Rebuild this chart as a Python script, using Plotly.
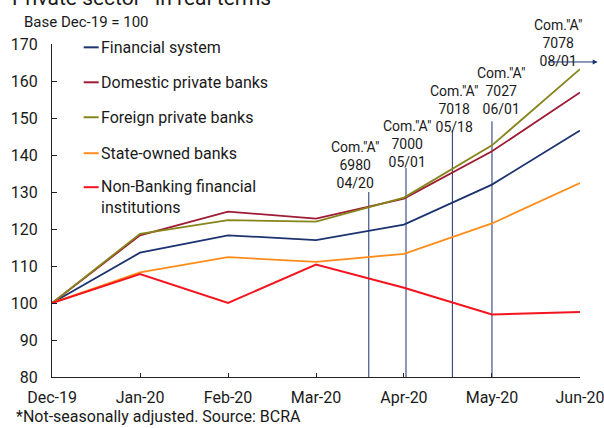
import plotly.graph_objects as go

# Monthly index values, base Dec-19 = 100
months = ["Dec-19", "Jan-20", "Feb-20", "Mar-20", "Apr-20", "May-20", "Jun-20"]
financial_system = [100, 113.6, 118.3, 117.0, 121.2, 132.0, 146.6]
domestic_private = [100, 118.3, 124.7, 122.8, 128.2, 141.0, 156.9]
foreign_private = [100, 118.7, 122.4, 122.0, 128.5, 142.6, 163.2]
state_owned = [100, 108.3, 112.4, 111.1, 113.3, 121.5, 132.4]
non_banking = [100, 107.8, 100.0, 110.4, 104.1, 96.9, 97.6]

series_names = [
    "Financial system",
    "Domestic private banks",
    "Foreign private banks",
    "State-owned banks",
    "Non-Banking financial<br>institutions",
]
series_values = [financial_system, domestic_private, foreign_private, state_owned, non_banking]
series_colors = ["#1c3370", "#9e1b34", "#85851a", "#ff8c1a", "#f5141e"]
series_widths = [1.8, 1.8, 1.8, 1.8, 2.0]

# BCRA communications (position on the month axis, height of the marker line)
event_pos = [3.6, 4.023, 4.55, 5.0]
event_top = [130.0, 136.5, 146.7, 149.1]
event_text = [
    'Com."A"<br>6980<br>04/20',
    'Com."A"<br>7000<br>05/01',
    'Com."A"<br>7018<br>05/18',
    'Com."A"<br>7027<br>06/01',
]
event_label_x = [3.44, 4.03, 4.565, 5.10]
event_label_y = [137.2, 142.9, 152.4, 157.3]
later_event_text = 'Com."A"<br>7078<br>08/01'

FONT = "Roboto"
TEXT = "#1a1a1a"
NAVY = "#1c3370"

x = list(range(len(months)))
fig = go.Figure()

# vertical markers for each communication
vx, vy = [], []
for p, t in zip(event_pos, event_top):
    vx += [p, p, None]
    vy += [80, t, None]
fig.add_trace(go.Scatter(x=vx, y=vy, mode="lines", line=dict(color=NAVY, width=1),
                         hoverinfo="skip", showlegend=False))

for name, vals, col, w in zip(series_names, series_values, series_colors, series_widths):
    fig.add_trace(go.Scatter(x=x, y=vals, mode="lines", name=name.replace("<br>", " "),
                             line=dict(color=col, width=w), showlegend=False))

annotations = []
for tx, lx, ly in zip(event_text, event_label_x, event_label_y):
    annotations.append(dict(x=lx, y=ly, xref="x", yref="y", text=tx, showarrow=False,
                            font=dict(family=FONT, size=14, color=TEXT),
                            xanchor="center", yanchor="middle", align="center"))

# later communication, beyond the end of the series
annotations.append(dict(x=0.959, y=1.004, xref="paper", yref="paper", text=later_event_text,
                        showarrow=False, font=dict(family=FONT, size=14, color=TEXT),
                        xanchor="center", yanchor="middle", align="center"))
annotations.append(dict(x=1.0335, y=0.946, xref="paper", yref="paper", text="",
                        showarrow=True, axref="pixel", ayref="pixel", ax=-51, ay=0,
                        arrowhead=2, arrowsize=1, arrowwidth=1, arrowcolor=NAVY))

# manual legend
legend_rows = [0.990, 0.885, 0.780, 0.672, 0.570]
for name, col, ry in zip(series_names, series_colors, legend_rows):
    fig.add_shape(type="line", xref="paper", yref="paper", x0=0.060, x1=0.0884,
                  y0=ry, y1=ry, line=dict(color=col, width=2))
    two_line = "<br>" in name
    annotations.append(dict(x=0.0895, y=ry, xref="paper", yref="paper", text=name,
                            showarrow=False, xanchor="left",
                            yanchor="top" if two_line else "middle",
                            yshift=12 if two_line else 0, align="left",
                            font=dict(family=FONT, size=16, color=TEXT)))

# titles and notes
annotations.append(dict(x=-0.080, y=1.137, xref="paper", yref="paper",
                        text="Private sector* in real terms", showarrow=False,
                        xanchor="left", yanchor="middle",
                        font=dict(family=FONT, size=21, color=TEXT)))
annotations.append(dict(x=-0.0574, y=1.066, xref="paper", yref="paper",
                        text="Base Dec-19 = 100", showarrow=False,
                        xanchor="left", yanchor="middle",
                        font=dict(family=FONT, size=15, color=TEXT)))
annotations.append(dict(x=-0.0725, y=-0.120, xref="paper", yref="paper",
                        text="*Not-seasonally adjusted. Source: BCRA", showarrow=False,
                        xanchor="left", yanchor="middle",
                        font=dict(family=FONT, size=16, color=TEXT)))

fig.update_layout(
    width=604, height=428,
    margin=dict(l=52, r=24, t=44, b=51),
    paper_bgcolor="white", plot_bgcolor="white",
    font=dict(family=FONT, size=16, color=TEXT),
    annotations=annotations,
    showlegend=False,
)
fig.update_xaxes(range=[-0.0005, 6.0005], tickmode="array", tickvals=x, ticktext=months,
                 showgrid=False, zeroline=False, showline=True, linecolor="#222",
                 linewidth=1.3, ticks="inside", ticklen=4, tickcolor="#222",
                 ticklabelstandoff=6, ticklabeloverflow="allow", automargin=False,
                 tickfont=dict(family=FONT, size=16, color=TEXT))
fig.update_yaxes(range=[80, 170], tickmode="array", tickvals=list(range(80, 171, 10)),
                 showgrid=False, zeroline=False, showline=True, linecolor="#222",
                 linewidth=1.3, ticks="inside", ticklen=5, tickcolor="#222",
                 ticklabelstandoff=10, automargin=False,
                 tickfont=dict(family=FONT, size=16, color=TEXT))

fig.write_html("out.html")
